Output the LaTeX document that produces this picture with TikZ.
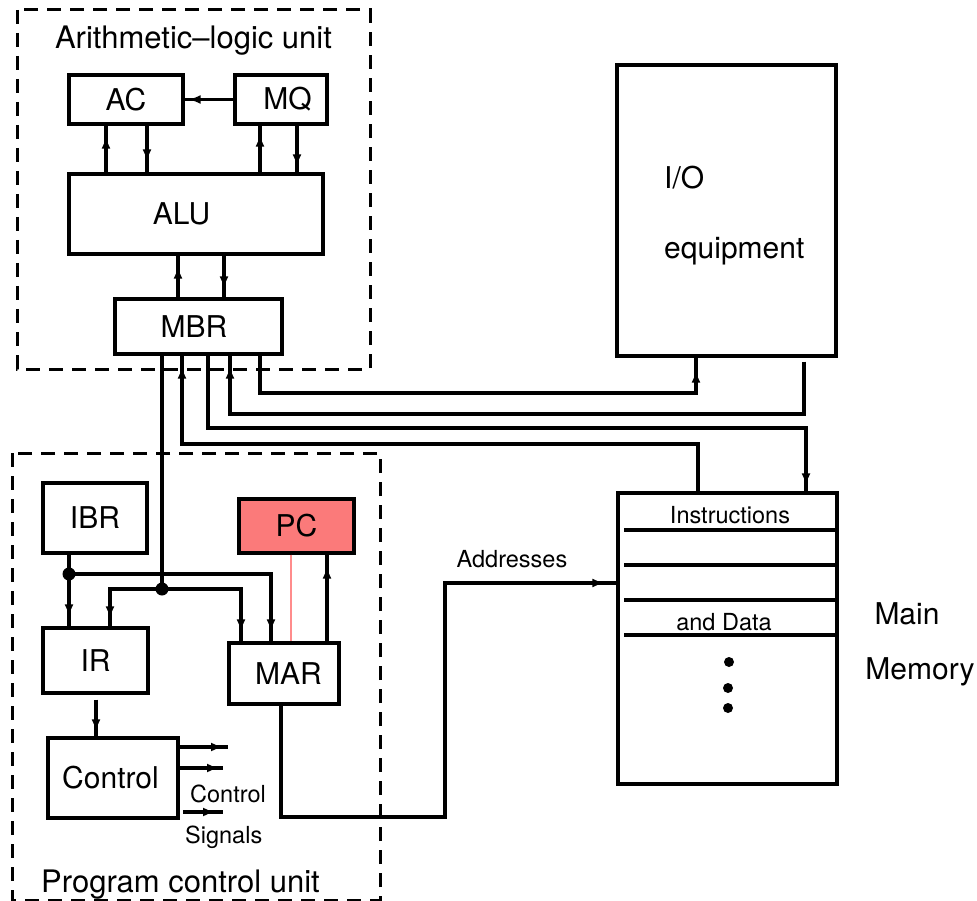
\documentclass[tikz,border=0pt]{standalone}
\usepackage{fontspec}
\setmainfont{TeX Gyre Heros}
\usetikzlibrary{arrows.meta,decorations.markings}
\newcommand\lblbig{\fontsize{30}{35}\selectfont}
\newcommand\lbltitle{\fontsize{31}{36}\selectfont}
\newcommand\lblsmall{\fontsize{23.5}{28}\selectfont}
\definecolor{pcred}{RGB}{251,122,122}
\definecolor{pcline}{RGB}{255,140,140}

\begin{document}
\begin{tikzpicture}[x=1pt,y=-1pt,
  unit/.style={draw, line width=3.2pt, inner sep=0pt, font=\lblbig},
  frame/.style={line width=3pt, dash pattern=on 14pt off 9pt},
  wire/.style={line width=3.2pt},
  tipat/.style={postaction={decorate}, decoration={markings,
      mark=at position -#1 with {\arrow{Latex[length=12pt,width=9pt]}}}},
  junction/.style={circle, fill, inner sep=0pt, minimum size=13pt},
  memdot/.style={circle, fill, inner sep=0pt, minimum size=10pt},
  lbl/.style={inner sep=0pt, font=\lblbig},
  tlbl/.style={inner sep=0pt, font=\lbltitle},
  slbl/.style={inner sep=0pt, font=\lblsmall},
]
\useasboundingbox (0,0) rectangle (977,901);

% dashed unit frames
\draw[frame] (17,10) rectangle (370,369);
\draw[frame] (12,453) rectangle (380,900);
\node[tlbl, anchor=base] (alutitle) at (193.5,49) {Arithmetic--logic unit};
\node[tlbl, anchor=base] (pcutitle) at (180.5,892) {Program control unit};

% registers and units
\node[unit, minimum width=114pt, minimum height=49pt] (ac)  at (126,99.5) {AC};
\node[unit, minimum width=92pt,  minimum height=49pt] (mq)  at (281,99.5) {\hspace*{13pt}MQ};
\node[unit, minimum width=254pt, minimum height=80pt] (alu) at (196,214) {ALU\hspace*{29pt}};
\node[unit, minimum width=167pt, minimum height=55pt] (mbr) at (198.5,326.5) {MBR\hspace*{9pt}};
\node[unit, minimum width=104pt, minimum height=70pt] (ibr) at (95,518) {IBR};
\node[unit, fill=pcred, minimum width=115pt, minimum height=54pt] (pc) at (296.5,526) {PC};
\node[unit, minimum width=105pt, minimum height=65pt] (ir)  at (95.5,660.5) {IR};
\node[unit, minimum width=110pt, minimum height=61pt] (mar) at (284,673.5) {\hspace*{9pt}MAR};
\node[unit, minimum width=130pt, minimum height=80pt] (ctrl) at (113,778) {Control\hspace*{5pt}};

% I/O equipment
\node[unit, minimum width=219pt, minimum height=291pt] (io) at (726.5,210.5) {};
\node[lbl, anchor=base west] (iotxt) at (664,189) {I/O};
\node[lbl, anchor=base west] (eqtxt) at (664,259) {equipment};

% main memory
\node[unit, minimum width=219pt, minimum height=291pt] (mem) at (727.5,638.5) {};
\foreach \yy in {530,565,600,635}
  \draw[wire] (624,\yy) -- (mem.east |- 0,\yy);
\node[slbl, anchor=base] (instr) at (730,523) {Instructions};
\node[slbl, anchor=base] (data) at (724,630) {and Data};
\node[memdot] (d1) at (729,662) {};
\node[memdot] (d2) at (728,688) {};
\node[memdot] (d3) at (728,708) {};
\node[lbl, anchor=base] (mainl) at (907,624) {Main};
\node[lbl, anchor=base] (meml) at (920,679) {Memory};

% inside the arithmetic-logic unit
\draw[wire, tipat=4pt]  (mq.west) -- (ac.east);
\draw[wire, tipat=11pt] (106,0 |- alu.north) -- (106,0 |- ac.south);
\draw[wire, tipat=11pt] (147,0 |- ac.south) -- (147,0 |- alu.north);
\draw[wire, tipat=9pt]  (260,0 |- alu.north) -- (260,0 |- mq.south);
\draw[wire, tipat=6pt]  (297,0 |- mq.south) -- (297,0 |- alu.north);
\draw[wire, tipat=11pt] (178,0 |- mbr.north) -- (178,0 |- alu.south);
\draw[wire, tipat=9pt]  (224,0 |- alu.south) -- (224,0 |- mbr.north);

% MBR to the program control unit
\node[junction] (j1) at (69,574) {};
\node[junction] (j2) at (162,589) {};
\draw[wire] (162,0 |- mbr.south) -- (j2.center);
\draw[wire, tipat=8pt]  (j2.center) -- (110,589) -- (110,0 |- ir.north);
\draw[wire, tipat=10pt] (j2.center) -- (241,589) -- (241,0 |- mar.north);
\draw[wire, tipat=10pt] (69,0 |- ibr.south) -- (69,0 |- ir.north);
\draw[wire, tipat=10pt] (j1.center) -- (271,574) -- (271,0 |- mar.north);
\draw[pcline, line width=2.6pt] (291,0 |- pc.south) -- (291,0 |- mar.north);
\draw[wire, tipat=12pt] (327,0 |- mar.north) -- (327,0 |- pc.south);
\draw[wire, tipat=5pt, shorten <=5pt] (96,0 |- ir.south) -- (96,0 |- ctrl.north);

% control signals
\coordinate (s1) at (228,747);
\coordinate (s2) at (223,768);
\coordinate (s3a) at (183,812);
\coordinate (s3b) at (223,812);
\draw[wire, tipat=5pt] (ctrl.east |- s1) -- (s1);
\draw[wire, tipat=4pt] (ctrl.east |- s2) -- (s2);
\draw[wire, tipat=8pt] (s3a) -- (s3b);
\node[slbl, anchor=base west] (ctltxt) at (190,802) {Control};
\node[slbl, anchor=base west] (sigtxt) at (185,843) {Signals};

% addresses from MAR to memory
\draw[wire, tipat=12pt] (281,0 |- mar.south) -- (281,817) -- (445,817) -- (445,583) -- (mem.west |- 0,583);
\node[slbl, anchor=base] (addr) at (512,567) {Addresses};

% data paths between MBR, I/O and memory
\draw[wire, tipat=13pt] (260,0 |- mbr.south) -- (260,393) -- (696,393) -- (696,0 |- io.south);
\draw[wire, tipat=11pt, shorten <=4pt] (804,0 |- io.south) -- (804,414) -- (230,414) -- (230,0 |- mbr.south);
\draw[wire, tipat=6pt]  (208,0 |- mbr.south) -- (208,428) -- (806,428) -- (806,0 |- mem.north);
\draw[wire, tipat=11pt] (698,0 |- mem.north) -- (698,444) -- (182,444) -- (182,0 |- mbr.south);
\end{tikzpicture}
\end{document}
